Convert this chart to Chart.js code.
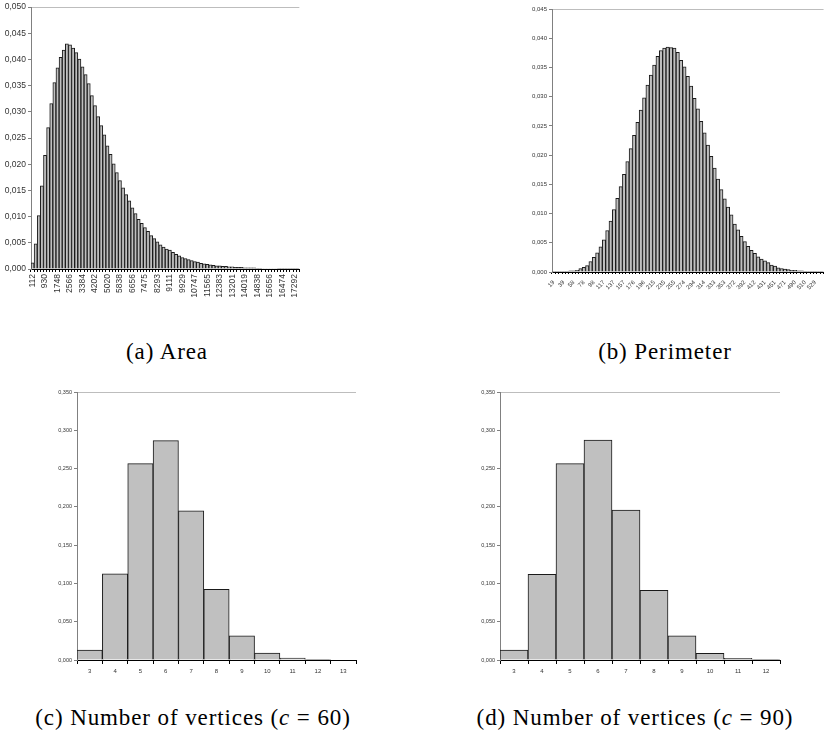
<!DOCTYPE html>
<html><head><meta charset="utf-8">
<script src="https://cdn.jsdelivr.net/npm/chart.js@4.4.0/dist/chart.umd.min.js"></script>
<style>
html,body{margin:0;padding:0;width:825px;height:743px;overflow:hidden;background:#fff;}
.box{position:absolute;}
.cap{position:absolute;font-family:"Liberation Serif","Times New Roman",serif;font-size:23px;letter-spacing:0.9px;color:#000;white-space:nowrap;transform:translateX(-50%);line-height:24px;}
</style></head><body>
<div class="box" style="left:0px;top:0px;width:310px;height:304px"><canvas id="cA"></canvas></div>
<div class="box" style="left:520px;top:0px;width:312px;height:300px"><canvas id="cB"></canvas></div>
<div class="box" style="left:40px;top:380px;width:320px;height:302px"><canvas id="cC"></canvas></div>
<div class="box" style="left:460px;top:380px;width:325px;height:302px"><canvas id="cD"></canvas></div>
<div class="cap" style="left:167px;top:340px">(a) Area</div>
<div class="cap" style="left:665px;top:340px">(b) Perimeter</div>
<div class="cap" style="left:193px;top:706px">(c) Number of vertices (<i>c</i> = 60)</div>
<div class="cap" style="left:635px;top:706px">(d) Number of vertices (<i>c</i> = 90)</div>
<script>
// ---- data ----
const areaTickLabels = ["112","930","1748","2566","3384","4202","5020","5838","6656","7475","8293","9111","9929","10747","11565","12383","13201","14019","14838","15656","16474","17292"];
const areaValues = [0.0012,0.0048,0.0102,0.0159,0.0217,0.0270,0.0316,0.0356,0.0384,0.0404,
  0.0418,0.0430,0.0428,0.0422,0.0413,0.0401,0.0386,0.0371,0.0354,0.0331,
  0.0312,0.0291,0.0274,0.0256,0.0235,0.0219,0.0201,0.0184,0.0169,0.0155,
  0.0142,0.0130,0.0117,0.0106,0.0095,0.0087,0.0079,0.0072,0.0064,0.0058,
  0.0052,0.0046,0.0042,0.0038,0.0036,0.0032,0.0028,0.0025,0.0022,0.0020,
  0.0018,0.0016,0.0014,0.0013,0.0011,0.0010,0.0009,0.0008,0.0007,0.0006,
  0.0006,0.0005,0.0005,0.0004,0.0004,0.0003,0.0003,0.0003,0.0002,0.0002,
  0.0002,0.0002,0.00015,0.00012,0.0001,0.0001,0.0001,0.0001,0.0001,0.00008,
  0.00008,0.00007,0.00006,0.00005,0.00004,0.00003];
const perimTickLabels = ["19","39","58","78","98","117","137","157","176","196","215","235","255","274","294","314","333","353","372","392","412","431","451","471","490","510","529"];
const perimValues = [0.00002,0.00003,0.00005,0.00007,0.0001,0.0002,0.0002,0.0003,0.0006,0.0008,
  0.0011,0.0018,0.0025,0.0033,0.0043,0.0055,0.0071,0.0087,0.0107,0.0126,
  0.0146,0.0167,0.0189,0.0211,0.0234,0.0256,0.0277,0.0298,0.0320,0.0337,
  0.0354,0.0369,0.0379,0.0383,0.0385,0.0384,0.0383,0.0376,0.0362,0.0351,
  0.0335,0.0318,0.0297,0.0279,0.0258,0.0238,0.0217,0.0198,0.0178,0.0159,
  0.0141,0.0125,0.0111,0.0098,0.0082,0.0072,0.0061,0.0052,0.0044,0.0037,
  0.0032,0.0026,0.0022,0.0019,0.0016,0.0012,0.0010,0.0007,0.0006,0.0005,
  0.0004,0.0003,0.0003,0.0002,0.0002,0.0001,0.0001,0.0001,0.0001,0.0001,0.0001];
const vert60Labels = ["3","4","5","6","7","8","9","10","11","12","13"];
const vert60Values = [0.0130,0.1124,0.2565,0.2865,0.1949,0.0924,0.0317,0.0091,0.0026,0.0005,0];
const vert90Labels = ["3","4","5","6","7","8","9","10","11","12"];
const vert90Values = [0.0130,0.1120,0.2565,0.2873,0.1957,0.0911,0.0317,0.0087,0.0022,0.0005];

// ---- helpers ----
const FONT = '"Liberation Sans", Arial, sans-serif';
function fmt(v){ return v.toFixed(3).replace('.', ','); }
function spacedLabels(n, tickLabels, every){
  const out = [];
  for (let i = 0; i < n; i++) out.push(i % every === 0 && tickLabels[i / every] !== undefined ? tickLabels[i / every] : '');
  return out;
}
function build(id, labels, values, cfg){
  return new Chart(document.getElementById(id), {
    type: 'bar',
    data: { labels: labels, datasets: [{ data: values, backgroundColor: '#c0c0c0', borderColor: '#1a1a1a', borderWidth: cfg.bw, borderSkipped: 'start', barPercentage: 1, categoryPercentage: 1 }] },
    options: {
      responsive: true, maintainAspectRatio: false, animation: false,
      layout: { padding: cfg.pad },
      plugins: { legend: { display: false }, tooltip: { enabled: false } },
      scales: {
        x: {
          offset: true,
          grid: { display: true, drawOnChartArea: false, drawTicks: true, tickLength: cfg.xTick, color: '#000', offset: true },
          border: { display: true, color: '#000', width: 1 },
          ticks: { autoSkip: false, minRotation: cfg.rot, maxRotation: cfg.rot, font: { family: FONT, size: cfg.xFont }, color: '#333', padding: cfg.xPad,
                   callback: (v, i) => labels[i] },
          afterFit: s => { s.height = cfg.xH; }
        },
        y: {
          min: 0, max: cfg.max,
          grid: { drawOnChartArea: true, color: c => (c.tick && Math.abs(c.tick.value - cfg.max) < 1e-9) ? '#bdbdbd' : 'rgba(0,0,0,0)', tickColor: '#808080', tickLength: 3, lineWidth: 1 },
          border: { display: true, color: '#808080' },
          ticks: { stepSize: cfg.step, font: { family: FONT, size: cfg.yFont }, color: '#333', padding: 2, callback: v => fmt(v) },
          afterFit: s => { s.width = cfg.yW; }
        }
      }
    }
  });
}

build('cA', spacedLabels(areaValues.length, areaTickLabels, 4), areaValues,
  { bw: 1, pad: { top: 7, right: 5, left: 0, bottom: 0 }, xTick: 3, rot: 90, xFont: 8.5, xPad: 2, xH: 35, max: 0.05, step: 0.005, yFont: 8.5, yW: 31 });
build('cB', spacedLabels(perimValues.length, perimTickLabels, 3), perimValues,
  { bw: 1, pad: { top: 9, right: 3, left: 0, bottom: 0 }, xTick: 2, rot: 45, xFont: 6, xPad: 5, xH: 28, max: 0.045, step: 0.005, yFont: 6, yW: 32 });
build('cC', vert60Labels, vert60Values,
  { bw: 1, pad: { top: 12, right: 4, left: 0, bottom: 0 }, xTick: 4, rot: 0, xFont: 6, xPad: 4, xH: 22, max: 0.35, step: 0.05, yFont: 5.5, yW: 37 });
build('cD', vert90Labels, vert90Values,
  { bw: 1, pad: { top: 12, right: 5, left: 0, bottom: 0 }, xTick: 4, rot: 0, xFont: 6, xPad: 4, xH: 22, max: 0.35, step: 0.05, yFont: 5.5, yW: 40 });
</script>
</body></html>
